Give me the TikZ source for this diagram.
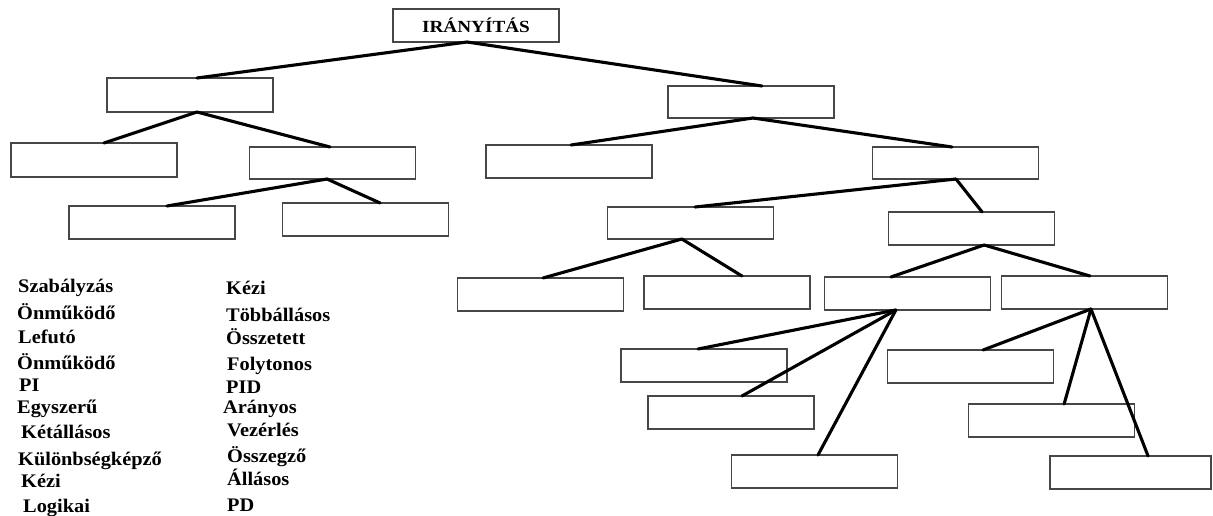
\documentclass[tikz,border=0pt]{standalone}
\usepackage{fontspec}
\setmainfont{Liberation Serif}
\usepackage{graphicx}
\usetikzlibrary{calc}
\newcommand{\conn}[4]{\draw[link] ($(#1.south west)!#2!(#1.south east)$) -- ($(#3.north west)!#4!(#3.north east)$);}
\newcommand{\wtxt}[1]{\scalebox{1.06}[1]{#1}}
\begin{document}
\begin{tikzpicture}[x=1pt,y=-1pt,
  box/.style={draw=black!72, line width=1.4pt, minimum width=166pt, minimum height=33pt, inner sep=0pt, outer sep=0pt},
  link/.style={line width=3.1pt, line cap=round, line join=round},
  word/.style={anchor=base west, inner sep=0pt, font=\fontsize{19.2}{22}\selectfont\bfseries},
]
\useasboundingbox (0,0) rectangle (1213,515);

% boxes
\node[box, font=\fontsize{17}{20}\selectfont\bfseries] (T) at (476,25.5) {\raisebox{-1pt}{\scalebox{1.13}[1]{IRÁNYÍTÁS}}};
\node[box, minimum height=34pt] (L1a) at (190,95) {};
\node[box, minimum height=32pt] (L1b) at (751,102) {};
\node[box, minimum height=34pt] (L2a) at (94,160) {};
\node[box, minimum height=32pt] (L2b) at (332.5,163) {};
\node[box] (L3a) at (152,222.5) {};
\node[box] (L3b) at (365.5,219.5) {};
\node[box] (R2a) at (569,161.5) {};
\node[box, minimum height=32pt] (R2b) at (955.5,163) {};
\node[box, minimum height=32pt] (R3a) at (690.5,223) {};
\node[box] (R3b) at (971.5,228.5) {};
\node[box] (R4a) at (540.5,294.5) {};
\node[box] (R4b) at (727,292.5) {};
\node[box] (R4c) at (907.5,293.5) {};
\node[box] (R4d) at (1084.5,292.5) {};
\node[box] (R5a) at (704,365.5) {};
\node[box] (R5b) at (731,412.5) {};
\node[box] (R5c) at (814.5,471.5) {};
\node[box] (R5d) at (970.5,366.5) {};
\node[box] (R5e) at (1051.5,420.5) {};
\node[box, minimum width=161pt] (R5f) at (1130.5,472.5) {};

% connectors
\conn{T}{0.446}{L1a}{0.542}
\conn{T}{0.446}{L1b}{0.566}
\conn{L1a}{0.542}{L2a}{0.560}
\conn{L1a}{0.542}{L2b}{0.485}
\conn{L2b}{0.467}{L3a}{0.590}
\conn{L2b}{0.467}{L3b}{0.588}
\conn{L1b}{0.512}{R2a}{0.512}
\conn{L1b}{0.512}{R2b}{0.479}
\conn{R2b}{0.503}{R3a}{0.527}
\conn{R2b}{0.503}{R3b}{0.564}
\conn{R3a}{0.448}{R4a}{0.515}
\conn{R3a}{0.448}{R4b}{0.590}
\conn{R3b}{0.576}{R4c}{0.400}
\conn{R3b}{0.576}{R4d}{0.533}
\conn{R4c}{0.430}{R5a}{0.464}
\conn{R4c}{0.430}{R5b}{0.566}
\conn{R4c}{0.430}{R5c}{0.521}
\conn{R4d}{0.539}{R5d}{0.576}
\conn{R4d}{0.539}{R5e}{0.576}
\conn{R4d}{0.539}{R5f}{0.609}

% word list, column 1
\node[word] (a1) at (18,292) {\wtxt{Szabályzás}};
\node[word] (a2) at (17,319) {\wtxt{Önműködő}};
\node[word] (a3) at (18,343) {\wtxt{Lefutó}};
\node[word] (a4) at (17,369) {\wtxt{Önműködő}};
\node[word] (a5) at (19,391) {\wtxt{PI}};
\node[word] (a6) at (17,413) {\wtxt{Egyszerű}};
\node[word] (a7) at (21,438) {\wtxt{Kétállásos}};
\node[word] (a8) at (18,465) {\wtxt{Különbségképző}};
\node[word] (a9) at (21,487) {\wtxt{Kézi}};
\node[word] (a10) at (23,512) {\wtxt{Logikai}};
% column 2
\node[word] (b1) at (226,294) {\wtxt{Kézi}};
\node[word] (b2) at (226,321) {\wtxt{Többállásos}};
\node[word] (b3) at (226,344) {\wtxt{Összetett}};
\node[word] (b4) at (227,370) {\wtxt{Folytonos}};
\node[word] (b5) at (226,393) {\wtxt{PID}};
\node[word] (b6) at (223,413) {\wtxt{Arányos}};
\node[word] (b7) at (227,436) {\wtxt{Vezérlés}};
\node[word] (b8) at (227,462) {\wtxt{Összegző}};
\node[word] (b9) at (227,485) {\wtxt{Állásos}};
\node[word] (b10) at (227,511) {\wtxt{PD}};
\end{tikzpicture}
\end{document}
